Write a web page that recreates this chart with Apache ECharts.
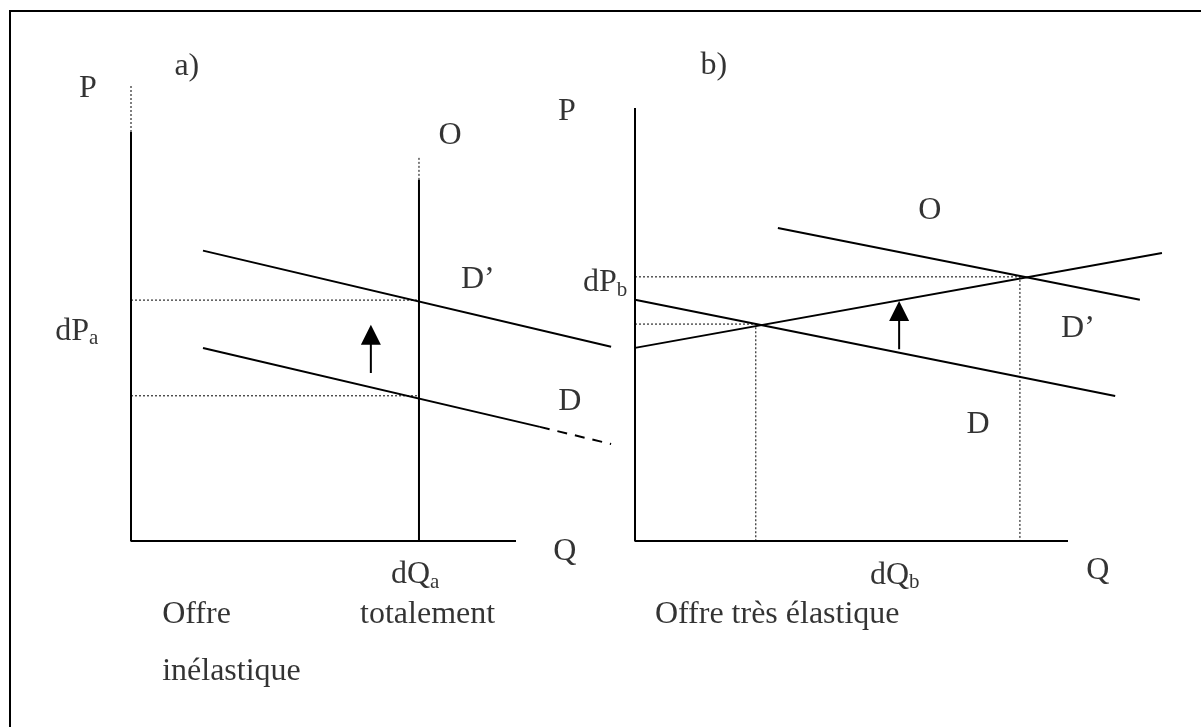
<!DOCTYPE html>
<html>
<head>
<meta charset="utf-8">
<script src="https://cdn.jsdelivr.net/npm/echarts@6/dist/echarts.min.js"></script>
<style>
  html, body { margin: 0; padding: 0; background: #fff; }
  #chart { width: 1201px; height: 727px; }
</style>
</head>
<body>
<div id="chart"></div>
<script>
// both panels: axes drawn 0..100 (Q horizontal, P vertical), room left past 100 for the overflowing lines

// panel a) offre totalement inelastique
var aAxes = [[0, 100], [0, 0], [100, 0]];
var aAxisExt = [[0, 100], [0, 111.7]];
var aSupply = [[74.8, 0], [74.8, 88.3]];
var aSupplyExt = [[74.8, 88.3], [74.8, 94.1]];
var aDemandNew = [[18.7, 71.0], [124.7, 47.5]];
var aDemand = [[18.7, 47.2], [106.2, 27.9]];
var aDemandExt = [[106.2, 27.9], [124.7, 23.7]];
var aGuideHigh = [[0, 58.9], [74.8, 58.9]];
var aGuideLow = [[0, 35.5], [74.8, 35.5]];
var aArrow = [[62.3, 41.1], [62.3, 50.4]];
var aLabels = [
    ['P', -11.2, 110.5, 'center'],
    ['a)', 14.5, 116.1, 'center'],
    ['O', 82.9, 99.0, 'center'],
    ["D\u2019", 90.1, 63.8, 'center'],
    ['D', 114.0, 34.2, 'center'],
    ['dP{s|a}', -19.7, 51.3, 'left'],
    ['dQ{s|a}', 73.8, -8.3, 'center'],
    ['Q', 112.7, -2.7, 'center'],
    ['Offre', 8.1, -18.1, 'left'],
    ['totalement', 59.5, -18.1, 'left'],
    ['inélastique', 8.1, -32.0, 'left']
];

// panel b) offre tres elastique
var bAxes = [[0, 100], [0, 0], [100, 0]];
var bSupply = [[0, 44.6], [121.7, 66.5]];
var bDemandNew = [[33.0, 72.3], [116.6, 55.7]];
var bDemand = [[0, 55.7], [110.9, 33.5]];
var bGuideHigh = [[0, 61.0], [88.9, 61.0], [88.9, 0]];
var bGuideLow = [[0, 50.1], [27.9, 50.1], [27.9, 0]];
var bArrow = [[61.0, 44.3], [61.0, 53.1]];
var bLabels = [
    ['P', -15.7, 99.1, 'center'],
    ['b)', 18.2, 109.7, 'center'],
    ['O', 68.1, 76.4, 'center'],
    ["D\u2019", 102.3, 49.0, 'center'],
    ['D', 79.2, 26.8, 'center'],
    ['dP{s|b}', -12.0, 59.6, 'left'],
    ['dQ{s|b}', 60.0, -7.9, 'center'],
    ['Q', 106.9, -6.9, 'center'],
    ['Offre très élastique', 4.6, -17.1, 'left']
];

var FONT = '"Liberation Serif", "Times New Roman", serif';

function seg(name, idx, data, type, width) {
    return {
        name: name,
        type: 'line',
        xAxisIndex: idx,
        yAxisIndex: idx,
        data: data,
        symbol: 'none',
        silent: true,
        lineStyle: { color: '#000', width: width || 2, type: type || 'solid', cap: 'butt' }
    };
}

function arrow(idx, data) {
    return {
        type: 'line',
        xAxisIndex: idx,
        yAxisIndex: idx,
        silent: true,
        data: [
            { value: data[0], symbol: 'none' },
            { value: data[1], symbol: 'triangle', symbolSize: [20, 20] }
        ],
        itemStyle: { color: '#000' },
        lineStyle: { color: '#000', width: 2 }
    };
}

function labels(idx, list) {
    return {
        type: 'scatter',
        xAxisIndex: idx,
        yAxisIndex: idx,
        symbolSize: 0,
        clip: false,
        silent: true,
        data: list.map(function (l) {
            return {
                name: l[0],
                value: [l[1], l[2]],
                label: { align: l[3] }
            };
        }),
        label: {
            show: true,
            position: 'inside',
            formatter: '{b}',
            color: '#000',
            fontFamily: FONT,
            fontSize: 32,
            verticalAlign: 'middle',
            rich: {
                s: { fontFamily: FONT, fontSize: 21, color: '#000', verticalAlign: 'bottom', padding: [15, 0, 0, 0] }
            }
        }
    };
}

function axis(idx, max) {
    return {
        type: 'value', gridIndex: idx, min: 0, max: max,
        axisLine: { show: false },
        axisTick: { show: false }, axisLabel: { show: false }, splitLine: { show: false }
    };
}

var chart = echarts.init(document.getElementById('chart'));
chart.setOption({
    animation: false,
    backgroundColor: '#fff',
    graphic: [{
        type: 'rect',
        shape: { x: 10, y: 11, width: 1400, height: 900 },
        style: { fill: 'none', stroke: '#000', lineWidth: 2 }
    }],
    // 3.85 x 4.09 px per unit in a), 4.33 px per unit in b)
    grid: [
        { left: 131, top: 541 - 120 * 4.09, width: 130 * 3.85, height: 120 * 4.09 },
        { left: 635, top: 541 - 120 * 4.33, width: 130 * 4.33, height: 120 * 4.33 }
    ],
    xAxis: [axis(0, 130), axis(1, 130)],
    yAxis: [axis(0, 120), axis(1, 120)],
    series: [
        seg('axes a', 0, aAxes),
        seg('axe P a', 0, aAxisExt, [2, 2], 1),
        seg('O a', 0, aSupply),
        seg('O a ext', 0, aSupplyExt, [2, 2], 1),
        seg("D' a", 0, aDemandNew),
        seg('D a', 0, aDemand),
        seg('D a ext', 0, aDemandExt, [10, 8]),
        seg('dPa haut', 0, aGuideHigh, [2, 2], 1),
        seg('dPa bas', 0, aGuideLow, [2, 2], 1),
        arrow(0, aArrow),
        labels(0, aLabels),
        seg('axes b', 1, bAxes),
        seg('O b', 1, bSupply),
        seg("D' b", 1, bDemandNew),
        seg('D b', 1, bDemand),
        seg('guide haut b', 1, bGuideHigh, [2, 2], 1),
        seg('guide bas b', 1, bGuideLow, [2, 2], 1),
        arrow(1, bArrow),
        labels(1, bLabels)
    ]
});
</script>
</body>
</html>
